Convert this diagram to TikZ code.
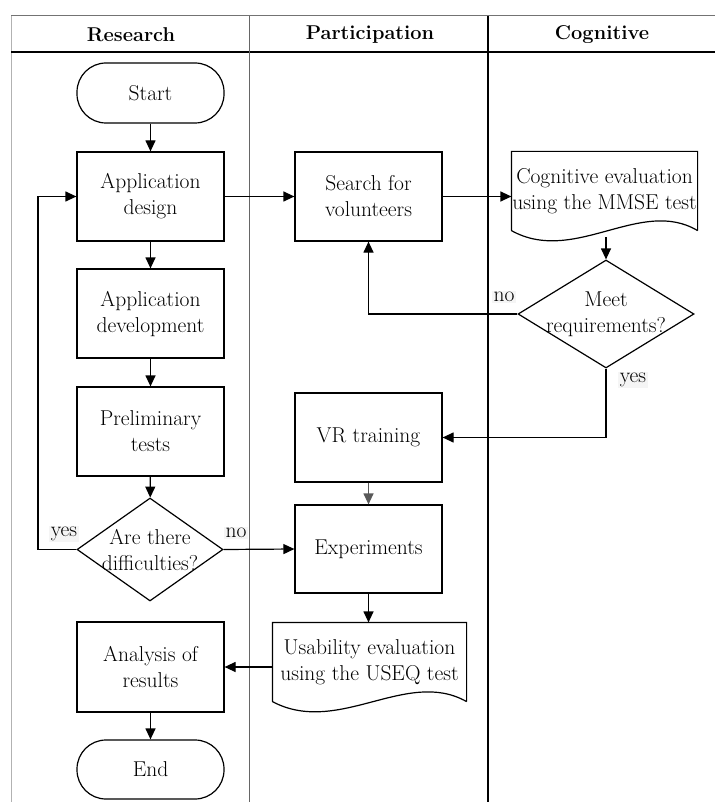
\documentclass[tikz,border=0pt]{standalone}
\usepackage{fontspec}
\setmainfont{Latin Modern Roman}
\usetikzlibrary{arrows.meta,calc,shapes.geometric}
\begin{document}
\begin{tikzpicture}[x=1pt,y=-1pt,
  font=\fontsize{21.5}{26}\selectfont,
  line width=1.2pt,
  arr/.style={-{Triangle[length=11pt,width=10pt]}},
  box/.style={draw,rectangle,minimum width=147pt,minimum height=89pt,inner sep=0pt,align=center},
  term/.style={draw,rectangle,rounded corners=29pt,minimum width=147pt,minimum height=60pt,inner sep=0pt,align=center},
  dec/.style={draw,diamond,inner sep=0pt},
  dectext/.style={align=center,inner sep=0pt},
  docbox/.style={rectangle,inner sep=0pt,align=center},
  lab/.style={fill=black!4,inner sep=1.5pt},
  head/.style={font=\fontsize{20}{25}\selectfont\bfseries}]
\useasboundingbox (0,0) rectangle (715,802);
% lanes
\draw[black!30,line width=1pt] (11,16) -- (11,802);
\draw[black!55,line width=1pt] (11,16) -- (715,16);
\draw[line width=1.4pt] (11,52) -- (715,52);
\draw[black!60,line width=1pt] (249,16) -- (249,802);
\draw[line width=1.4pt] (488,16) -- (488,802);
\node[head] (h1) at (131,35) {Research};
\node[head] (h2) at (370,35) {Participation};
\node[head] (h3) at (602,35) {Cognitive};
% research column
\node[term] (start) at (150.5,93) {Start};
\node[box] (design) at (150.5,196.5) {Application\\design};
\node[box] (dev) at (150.5,313.5) {Application\\development};
\node[box] (prelim) at (150.5,431.5) {Preliminary\\tests};
\node[dec,minimum width=146pt,minimum height=103pt,
  label={[dectext]center:Are there\\difficulties?}] (diff) at (150,549.5) {};
\node[box,minimum height=90pt] (anal) at (150.5,667) {Analysis of\\results};
\node[term,minimum height=59pt] (endn) at (150.5,769.5) {End};
% participation column
\node[box] (search) at (368.5,196.5) {Search for\\volunteers};
\node[box] (vr) at (368.5,437.5) {VR training};
\node[box,minimum height=88pt] (exp) at (368.5,549) {Experiments};
\node[docbox,minimum width=193pt,minimum height=78pt] (useq) at (369.5,662) {Usability evaluation\\using the USEQ test};
\draw (useq.south east) -- (useq.north east) -- (useq.north west) -- (useq.south west)
  (useq.south east) .. controls +(-60,-34) and +(66,35) .. (useq.south west);
% cognitive column
\node[docbox,minimum width=185pt,minimum height=78pt] (cog) at (604.5,191) {Cognitive evaluation\\using the MMSE test};
\draw (cog.south east) -- (cog.north east) -- (cog.north west) -- (cog.south west)
  (cog.south east) .. controls +(-57,-34) and +(63,35) .. (cog.south west);
\node[dec,minimum width=176pt,minimum height=108pt,
  label={[dectext]center:Meet\\requirements?}] (meet) at (606,314) {};
% connectors
\draw[arr] (start) -- (design);
\draw[arr] (design) -- (dev);
\draw[arr] (dev) -- (prelim);
\draw[arr] (prelim) -- (diff);
\draw[arr] (diff.west) -- (38,549.5) |- (design.west);
\draw[arr] (diff.east) -- (exp.west);
\draw[arr] (design.east) -- (search.west);
\draw[arr] (search.east) -- (cog.west |- search.east);
\coordinate (cogout) at (606,237);
\draw[arr] (cogout) -- (meet.north);
\draw[arr] (meet.west) -| (search.south);
\draw[arr] (meet.south) |- (vr.east);
\draw[arr,black!65] (vr) -- (exp);
\draw[arr] (exp.south) -- (exp.south |- useq.north);
\draw[arr] (useq.west |- anal.east) -- (anal.east);
\draw[arr] (anal) -- (endn);
% labels
\node[lab] (l1) at (64,534) {yes};
\node[lab] (l2) at (236,533) {no};
\node[lab] (l3) at (504,297) {no};
\node[lab] (l4) at (633,380) {yes};
\end{tikzpicture}
\end{document}
